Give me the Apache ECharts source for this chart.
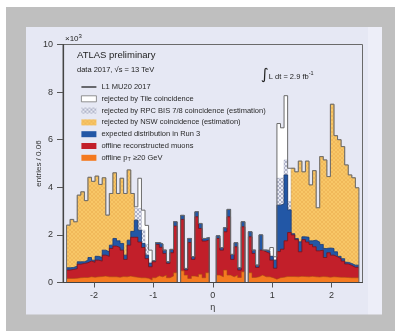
<!DOCTYPE html>
<html>
<head>
<meta charset="utf-8">
<script src="https://cdn.jsdelivr.net/npm/echarts@6/dist/echarts.min.js"></script>
<style>
  html, body { margin: 0; padding: 0; background: #bfbfbf; }
  #chart { width: 395px; height: 331px; }
</style>
</head>
<body>
<div id="chart"></div>
<script>
  // 82 bins of width 0.06 in eta, first bin starts at -2.46
  const binStart = -2.46;
  const binWidth = 0.06;

  // entries / 0.06 (x10^3), each array is the top of its histogram
  const l1Mu20 = [2.41, 2.65, 2.55, 3.67, 3.81, 3.44, 4.42, 4.25, 4.47, 4.12, 4.40, 2.83, 3.74, 4.61, 3.74, 4.38, 3.74, 4.73, 3.74,
    3.18, 4.38, 3.04, 2.40, 1.36, 0.92, 1.68, 1.62, 1.36, 0.87, 1.39, 2.55, 0, 2.82, 0.59, 1.85, 1.08, 2.97, 2.48, 1.85, 1.89, 0, 0,
    1.96, 1.46, 2.30, 3.07, 1.18, 1.67, 0.62, 2.55, 0, 2.13, 1.36, 0.73, 2.00, 1.36, 1.36, 1.47, 1.08,
    6.68, 6.50, 7.85, 4.80, 4.80, 4.65, 5.10, 4.65, 5.10, 4.10, 4.70, 3.14, 5.29, 5.15, 4.45, 7.49, 6.17, 6.00, 5.71, 4.94, 4.52, 4.40, 3.98];
  const rpcEst = [2.41, 2.65, 2.55, 3.67, 3.81, 3.44, 4.42, 4.25, 4.47, 4.12, 4.40, 2.83, 3.74, 4.61, 3.74, 4.38, 3.74, 4.73, 3.74,
    3.11, 3.11, 2.20, 1.60, 0.85, 0.92, 1.68, 1.62, 1.36, 0.87, 1.39, 2.55, 0, 2.82, 0.59, 1.85, 1.08, 2.97, 2.48, 1.85, 1.89, 0, 0,
    1.96, 1.46, 2.30, 3.07, 1.18, 1.67, 0.62, 2.55, 0, 2.13, 1.36, 0.73, 2.00, 1.36, 1.33, 1.10, 0.94,
    4.38, 4.40, 5.15, 3.40, 4.80, 4.65, 5.10, 4.65, 5.10, 4.10, 4.70, 3.14, 5.29, 5.15, 4.45, 7.49, 6.17, 6.00, 5.71, 4.94, 4.52, 4.40, 3.98];
  const nswEst = [2.41, 2.65, 2.55, 3.67, 3.81, 3.44, 4.42, 4.25, 4.47, 4.12, 4.40, 2.83, 3.74, 4.61, 3.74, 4.38, 3.74, 4.73, 3.74,
    2.62, 2.20, 1.64, 1.15, 0.80, 0.92, 1.68, 1.62, 1.36, 0.87, 1.39, 2.55, 0, 2.82, 0.59, 1.85, 1.08, 2.97, 2.48, 1.85, 1.89, 0, 0,
    1.96, 1.46, 2.30, 3.07, 1.18, 1.67, 0.62, 2.55, 0, 2.13, 1.36, 0.73, 2.00, 1.36, 1.33, 1.10, 0.94,
    3.25, 3.30, 4.52, 3.05, 4.80, 4.65, 5.10, 4.65, 5.10, 4.10, 4.70, 3.14, 5.29, 5.15, 4.45, 7.49, 6.17, 6.00, 5.71, 4.94, 4.52, 4.40, 3.98];
  const run3 = [0.62, 0.63, 0.69, 0.87, 0.87, 0.94, 1.05, 0.94, 1.10, 1.05, 1.36, 1.29, 1.57, 1.85, 1.75, 1.64, 1.15, 1.78, 2.15,
    2.62, 2.20, 1.64, 1.15, 0.80, 0.92, 1.68, 1.62, 1.36, 0.87, 1.39, 2.55, 0, 2.82, 0.59, 1.85, 1.08, 2.97, 2.48, 1.85, 1.89, 0, 0,
    1.96, 1.46, 2.30, 3.07, 1.18, 1.67, 0.62, 2.55, 0, 2.13, 1.36, 0.73, 2.00, 1.36, 1.33, 1.10, 0.94,
    3.25, 3.30, 4.52, 3.05, 2.05, 1.85, 1.71, 1.92, 1.90, 1.75, 1.78, 1.70, 1.60, 1.43, 1.45, 1.43, 1.29, 1.10, 1.00, 0.85, 0.80, 0.73, 0.73];
  const offline = [0.52, 0.55, 0.58, 0.77, 0.80, 0.83, 0.90, 0.85, 0.94, 0.90, 1.15, 1.10, 1.43, 1.53, 1.47, 1.36, 0.97, 1.57, 1.90,
    1.90, 1.70, 1.47, 1.00, 0.66, 0.87, 1.60, 1.48, 1.22, 0.80, 1.25, 2.37, 0, 2.65, 0.52, 1.68, 0.97, 2.76, 2.27, 1.74, 1.78, 0, 0,
    1.85, 1.36, 2.13, 2.76, 0.97, 1.50, 0.52, 2.34, 0, 1.92, 1.22, 0.63, 1.36, 1.29, 1.22, 0.94, 0.60,
    1.30, 1.40, 1.75, 2.10, 2.00, 1.80, 1.29, 1.80, 1.70, 1.60, 1.50, 1.33, 1.36, 1.05, 1.25, 1.15, 1.08, 1.00, 0.90, 0.78, 0.72, 0.64, 0.64];
  const offlinePt20 = [0.17, 0.17, 0.18, 0.20, 0.21, 0.21, 0.24, 0.22, 0.24, 0.25, 0.27, 0.24, 0.24, 0.24, 0.22, 0.25, 0.24, 0.27, 0.24,
    0.22, 0.20, 0.20, 0.18, 0.10, 0.20, 0.28, 0.24, 0.31, 0.20, 0.27, 0.41, 0, 0.49, 0.31, 0.17, 0.27, 0.24, 0.35, 0.20, 0.41, 0, 0,
    0.31, 0.24, 0.52, 0.31, 0.24, 0.31, 0.21, 0.45, 0, 0.41, 0.21, 0.24, 0.31, 0.24, 0.24, 0.20, 0.14,
    0.20, 0.22, 0.25, 0.25, 0.25, 0.24, 0.26, 0.25, 0.24, 0.26, 0.24, 0.23, 0.25, 0.24, 0.22, 0.24, 0.23, 0.22, 0.22, 0.21, 0.20, 0.20, 0.20];

  const etaTicks = [-2, -1, 0, 1, 2];

  // histogram -> step points at bin edges
  function steps(vals) {
    const pts = vals.map((v, i) => [+(binStart + i * binWidth).toFixed(2), v]);
    pts.push([+(binStart + vals.length * binWidth).toFixed(2), vals[vals.length - 1]]);
    return pts;
  }

  // small cross hatch tiles for the estimation fills
  function hatch(base, dot) {
    const c = document.createElement('canvas');
    c.width = 4; c.height = 4;
    const g = c.getContext('2d');
    g.fillStyle = base; g.fillRect(0, 0, 4, 4);
    g.fillStyle = dot;
    for (let k = 0; k < 4; k++) { g.fillRect(k, k, 1, 1); g.fillRect(3 - k, k, 1, 1); }
    return { image: c, repeat: 'repeat' };
  }
  const nswFill = hatch('#f8c767', '#f1b95a');
  const rpcFill = hatch('#e9ebf4', '#aeb2c8');

  function histo(name, vals, fill, line, lw, z) {
    return {
      name: name, type: 'line', step: 'end', symbol: 'none', showSymbol: false, z: z,
      data: steps(vals),
      color: line,
      lineStyle: { color: line, width: lw },
      areaStyle: { color: fill, opacity: 1 },
      emphasis: { disabled: true },
      silent: true
    };
  }

  const font = 'Liberation Sans';
  const l1Pts = steps(l1Mu20);
  l1Pts.unshift([binStart, 0]);
  l1Pts.push([l1Pts[l1Pts.length - 1][0], 0]);

  const chart = echarts.init(document.getElementById('chart'));
  chart.setOption({
    animation: false,
    backgroundColor: '#bfbfbf',
    textStyle: { fontFamily: font },
    graphic: [
      { type: 'rect', z: -10, shape: { x: 0, y: 0, width: 395, height: 7 }, style: { fill: '#ffffff' }, silent: true },
      { type: 'rect', z: -10, shape: { x: 0, y: 0, width: 6, height: 331 }, style: { fill: '#ffffff' }, silent: true },
      { type: 'rect', z: -9, shape: { x: 26, y: 27, width: 342, height: 287.5 }, style: { fill: '#e6e8f4' }, silent: true },
      { type: 'rect', z: -9, shape: { x: 368, y: 27, width: 14, height: 287.5 }, style: { fill: '#edeef8' }, silent: true },
      { type: 'text', z: 20, left: 77, top: 50, style: { text: 'ATLAS preliminary', fontSize: 9.5, fill: '#222', fontFamily: font } },
      { type: 'text', z: 20, left: 77, top: 66, style: { text: 'data 2017, √s = 13 TeV', fontSize: 7.5, fill: '#222', fontFamily: font } },
      {
        type: 'text', z: 20, left: 261, top: 68, style: {
          text: '{i|∫}{t|L dt = 2.9 fb}{s|-1}', fontFamily: font, fill: '#222',
          rich: {
            i: { fontSize: 15, fontFamily: 'DejaVu Sans', fill: '#222' },
            t: { fontSize: 7.5, fill: '#222', padding: [3, 0, 0, 0] },
            s: { fontSize: 5.5, fill: '#222', padding: [0, 0, 4, 0] }
          }
        }
      },
      {
        type: 'text', z: 20, left: 65, top: 33, style: {
          text: '×10{s|3}', fontSize: 8, fill: '#222', fontFamily: font,
          rich: { s: { fontSize: 6, fill: '#222', padding: [0, 0, 5, 0] } }
        }
      }
    ],
    grid: { left: 63, right: 32.5, top: 44.5, bottom: 48.5, show: true, borderColor: '#6a6a6a', borderWidth: 1, backgroundColor: 'transparent' },
    legend: {
      orient: 'vertical', left: 76, top: 78, itemWidth: 15, itemHeight: 6, itemGap: 3.8,
      selectedMode: false,
      textStyle: {
        fontSize: 7.5, color: '#2a2a2a', fontFamily: font, lineHeight: 8,
        rich: { sub: { fontSize: 5.5, color: '#2a2a2a', padding: [4, 0, 0, 0] } }
      },
      formatter: function (n) { return n === 'offline pT ≥20 GeV' ? 'offline p{sub|T} ≥20 GeV' : n; },
      data: [
        { name: 'L1 MU20 2017', icon: 'path://M0,0 L30,0 L30,2.4 L0,2.4 Z', itemStyle: { color: '#111', borderColor: '#111', borderWidth: 0 }, lineStyle: { color: '#111' } },
        { name: 'rejected by Tile coincidence', icon: 'rect', itemStyle: { color: '#ffffff', borderColor: '#777', borderWidth: 0.8 } },
        { name: 'rejected by RPC BIS 7/8 coincidence (estimation)', icon: 'rect', itemStyle: { color: rpcFill, borderWidth: 0 } },
        { name: 'rejected by NSW coincidence (estimation)', icon: 'rect', itemStyle: { color: nswFill, borderWidth: 0 } },
        { name: 'expected distribution in Run 3', icon: 'rect', itemStyle: { color: '#2257a6', borderWidth: 0 } },
        { name: 'offline reconstructed muons', icon: 'rect', itemStyle: { color: '#c21f2a', borderWidth: 0 } },
        { name: 'offline pT ≥20 GeV', icon: 'rect', itemStyle: { color: '#f47a20', borderWidth: 0 } }
      ]
    },
    xAxis: {
      type: 'value', min: -2.52, max: 2.52, z: 10,
      name: 'η', nameLocation: 'middle', nameGap: 21, nameMoveOverlap: false,
      nameTextStyle: { fontSize: 9, color: '#333', fontFamily: font },
      axisLine: { onZero: false, lineStyle: { color: '#444', width: 1.2 } },
      axisTick: { show: true, length: 5, lineStyle: { color: '#555' }, customValues: etaTicks },
      axisLabel: { fontSize: 9, color: '#333', margin: 9, customValues: etaTicks },
      splitLine: { show: false }
    },
    yAxis: {
      type: 'value', min: 0, max: 10, interval: 2, z: 10,
      name: 'entries / 0.06', nameLocation: 'middle', nameGap: 20, nameRotate: 90, nameMoveOverlap: false,
      nameTextStyle: { fontSize: 8, color: '#333', fontFamily: font },
      axisLine: { show: true, onZero: false, lineStyle: { color: '#444', width: 1.2 } },
      axisTick: { show: true, length: 6, lineStyle: { color: '#555' } },
      axisLabel: { fontSize: 9, color: '#333', margin: 10 },
      splitLine: { show: false }
    },
    series: [
      histo('rejected by Tile coincidence', l1Mu20, '#ffffff', '#ffffff', 0, 2),
      histo('rejected by RPC BIS 7/8 coincidence (estimation)', rpcEst, rpcFill, '#9aa0b8', 0.4, 3),
      histo('rejected by NSW coincidence (estimation)', nswEst, nswFill, '#c89a4a', 0.4, 4),
      histo('expected distribution in Run 3', run3, '#2257a6', '#143a78', 0.8, 5),
      histo('offline reconstructed muons', offline, '#c21f2a', '#7a1118', 0.8, 6),
      histo('offline pT ≥20 GeV', offlinePt20, '#f47a20', '#a84c12', 0.6, 7),
      {
        name: 'L1 MU20 2017', type: 'line', step: 'end', symbol: 'none', showSymbol: false, z: 9,
        data: l1Pts, color: '#111',
        lineStyle: { color: '#6b6b6b', width: 1 },
        emphasis: { disabled: true }, silent: true
      }
    ]
  });
</script>
</body>
</html>
